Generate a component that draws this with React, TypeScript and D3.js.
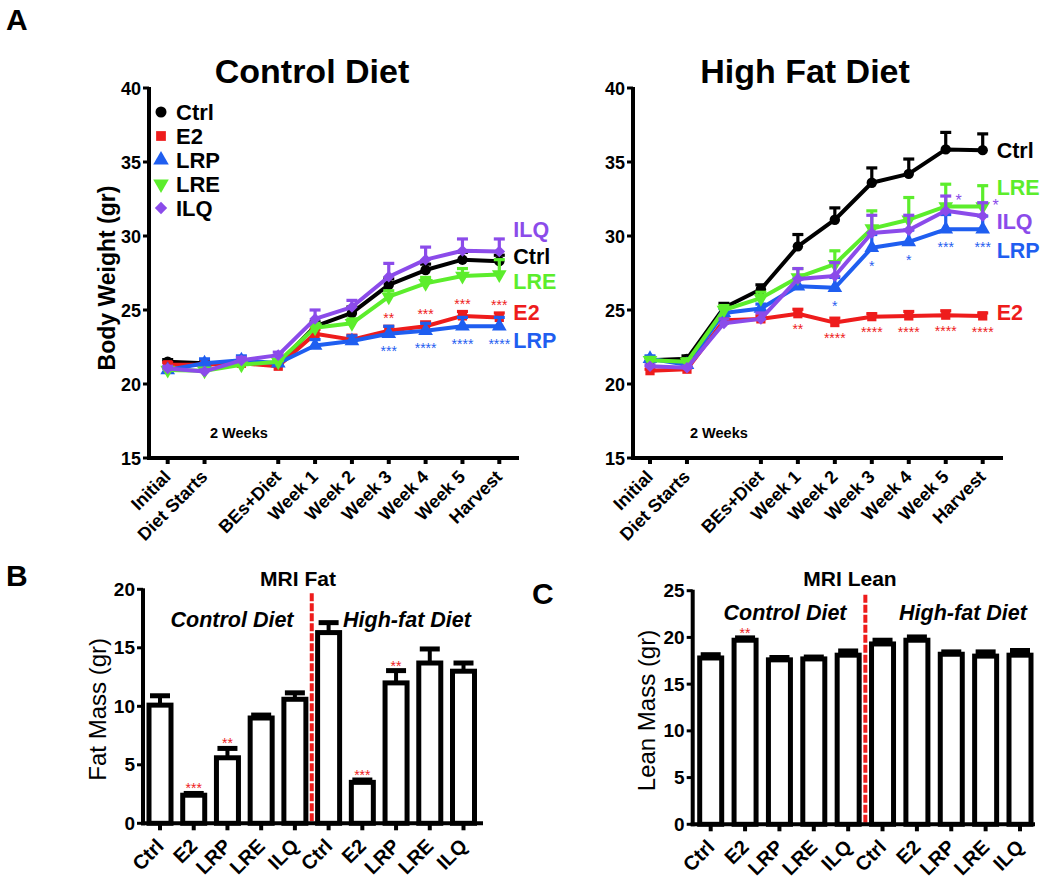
import React from 'react';
import * as d3 from 'd3';

// ---------- DATA ----------
const timeLabels = ['Initial', 'Diet Starts', '', 'BEs+Diet', 'Week 1', 'Week 2', 'Week 3', 'Week 4', 'Week 5', 'Harvest'];
const groups = ['Ctrl', 'E2', 'LRP', 'LRE', 'ILQ'];
const groupColors = ['#000000', '#ee1c1c', '#1f5ef0', '#5ced2c', '#8b4bea'];
const groupSymbols = ['circle', 'square', 'triUp', 'triDown', 'diamond'];

// Control diet body weight (gr)
const cdCtrl = [21.5, 21.4, 21.4, 21.35, 23.9, 24.8, 26.7, 27.7, 28.4, 28.3];
const cdE2 = [21.3, 21.3, 21.4, 21.2, 23.4, 23.0, 23.6, 23.9, 24.6, 24.5];
const cdLRP = [20.95, 21.4, 21.6, 21.4, 22.6, 22.9, 23.4, 23.6, 23.9, 23.9];
const cdLRE = [20.95, 20.9, 21.3, 21.5, 23.8, 24.1, 25.9, 26.8, 27.3, 27.4];
const cdILQ = [21.05, 20.85, 21.6, 21.95, 24.4, 25.2, 27.25, 28.4, 29.0, 28.95];
const cdCtrlErr = [0.15, 0.1, 0.1, 0.1, 0.3, 0.4, 0.4, 0.4, 0.5, 0.4];
const cdE2Err = [0.15, 0.1, 0.1, 0.1, 0.3, 0.3, 0.3, 0.3, 0.3, 0.3];
const cdLRPErr = [0.15, 0.3, 0.3, 0.2, 0.4, 0.35, 0.5, 0.5, 0.6, 0.6];
const cdLREErr = [0.1, 0.1, 0.1, 0.1, 0.3, 0.3, 0.4, 0.4, 0.5, 1.0];
const cdILQErr = [0.15, 0.1, 0.2, 0.2, 0.6, 0.45, 0.9, 0.85, 0.8, 0.85];

// High fat diet body weight (gr)
const hfCtrl = [21.6, 21.7, 25.15, 26.4, 29.3, 31.1, 33.6, 34.2, 35.85, 35.8];
const hfE2 = [20.9, 21.0, 24.3, 24.4, 24.75, 24.15, 24.55, 24.6, 24.65, 24.6];
const hfLRP = [21.7, 21.3, 24.8, 25.1, 26.6, 26.5, 29.2, 29.6, 30.45, 30.45];
const hfLRE = [21.6, 21.5, 25.0, 25.8, 27.2, 28.1, 30.5, 31.1, 32.0, 32.0];
const hfILQ = [21.2, 21.1, 24.1, 24.4, 27.1, 27.3, 30.2, 30.4, 31.7, 31.35];
const hfCtrlErr = [0.2, 0.2, 0.3, 0.3, 0.8, 0.8, 1.0, 1.0, 1.15, 1.1];
const hfE2Err = [0.1, 0.1, 0.2, 0.2, 0.3, 0.3, 0.2, 0.3, 0.3, 0.2];
const hfLRPErr = [0.2, 0.2, 0.3, 0.3, 0.5, 0.7, 0.9, 0.8, 1.0, 0.9];
const hfLREErr = [0.2, 0.2, 0.3, 0.4, 0.6, 0.9, 1.2, 1.5, 1.5, 1.4];
const hfILQErr = [0.1, 0.1, 0.3, 0.4, 0.7, 0.9, 1.2, 1.0, 1.0, 0.9];

// significance stars per time point
const cdE2Stars = ['', '', '', '', '', '', '**', '***', '***', '***'];
const cdLRPStars = ['', '', '', '', '', '', '***', '****', '****', '****'];
const hfE2Stars = ['', '', '', '', '**', '****', '****', '****', '****', '****'];
const hfLRPStars = ['', '', '', '', '', '*', '*', '*', '***', '***'];
const hfILQStars = ['', '', '', '', '', '', '', '', '*', '*'];

// end-of-line labels (value level on y scale)
const cdEndLabels = [
  { text: 'ILQ', group: 4, level: 29.9 },
  { text: 'Ctrl', group: 0, level: 28.1 },
  { text: 'LRE', group: 3, level: 26.45 },
  { text: 'E2', group: 1, level: 24.3 },
  { text: 'LRP', group: 2, level: 22.45 },
];
const hfEndLabels = [
  { text: 'Ctrl', group: 0, level: 35.3 },
  { text: 'LRE', group: 3, level: 32.75 },
  { text: 'ILQ', group: 4, level: 30.5 },
  { text: 'LRP', group: 2, level: 28.5 },
  { text: 'E2', group: 1, level: 24.3 },
];

const yTicksA = [15, 20, 25, 30, 35, 40];

// MRI bars
const barLabels = ['Ctrl', 'E2', 'LRP', 'LRE', 'ILQ', 'Ctrl', 'E2', 'LRP', 'LRE', 'ILQ'];
const fatMass = [10.1, 2.4, 5.6, 9.0, 10.6, 16.3, 3.5, 12.0, 13.7, 13.0];
const fatErr = [0.8, 0.15, 0.8, 0.25, 0.55, 0.85, 0.2, 1.05, 1.2, 0.7];
const fatStars = ['', '***', '**', '', '', '', '***', '**', '', ''];
const fatTicks = [0, 5, 10, 15, 20];

const leanMass = [17.8, 19.7, 17.6, 17.7, 18.1, 19.3, 19.7, 18.2, 18.0, 18.1];
const leanErr = [0.35, 0.25, 0.25, 0.2, 0.45, 0.4, 0.35, 0.25, 0.45, 0.5];
const leanStars = ['', '**', '', '', '', '', '', '', '', ''];
const leanTicks = [0, 5, 10, 15, 20, 25];

// ---------- STYLE ----------
const FONT = "'Liberation Sans', Arial, Helvetica, sans-serif";

function symbolPath(kind: string, size: number) {
  if (kind === 'circle') return d3.symbol().type(d3.symbolCircle).size(size)()!;
  if (kind === 'square') return d3.symbol().type(d3.symbolSquare).size(size)()!;
  if (kind === 'triUp' || kind === 'triDown') return d3.symbol().type(d3.symbolTriangle).size(size * 1.1)()!;
  return d3.symbol().type(d3.symbolSquare).size(size * 0.8)()!;
}
function symbolRotate(kind: string) {
  if (kind === 'triDown') return 180;
  if (kind === 'diamond') return 45;
  return 0;
}

type Series = { vals: number[]; err: number[]; g: number };

function LinePanel(props: {
  x0: number; x1: number; axisX: number; axisEnd: number;
  series: Series[]; title: string; titleX: number;
  endLabels: { text: string; group: number; level: number }[];
  stars: { arr: string[]; g: number; ref: number[]; dx: number; dy: number; size: number }[];
  weeksX: number; showLegend: boolean; yLabel?: boolean;
}) {
  const x = d3.scaleLinear().domain([0, 9]).range([props.x0, props.x1]);
  const y = d3.scaleLinear().domain([15, 40]).range([458, 88]);
  const line = d3.line<number>().x((_, i) => x(i)).y((d) => y(d));
  const axisY = y(15);
  return (
    <g>
      <text x={props.titleX} y={83} textAnchor="middle" fontFamily={FONT} fontWeight="bold" fontSize={34}>{props.title}</text>
      {props.yLabel && (
        <text transform={`translate(115,${(y(15) + y(40)) / 2 + 5}) rotate(-90)`} textAnchor="middle" fontFamily={FONT} fontWeight="bold" fontSize={23}>Body Weight (gr)</text>
      )}
      {props.series.map((s) => {
        const col = groupColors[s.g];
        return (
          <g key={s.g}>
            {s.vals.map((v, i) => (
              <g key={i}>
                <line x1={x(i)} x2={x(i)} y1={y(v)} y2={y(v + s.err[i])} stroke={col} strokeWidth={3.2} />
                <line x1={x(i) - 5.5} x2={x(i) + 5.5} y1={y(v + s.err[i])} y2={y(v + s.err[i])} stroke={col} strokeWidth={3.2} />
              </g>
            ))}
            <path d={line(s.vals)!} fill="none" stroke={col} strokeWidth={4} strokeLinejoin="round" />
            {s.vals.map((v, i) => (
              <path key={'m' + i} d={symbolPath(groupSymbols[s.g], 85)} transform={`translate(${x(i)},${y(v)}) rotate(${symbolRotate(groupSymbols[s.g])})`} fill={col} />
            ))}
          </g>
        );
      })}
      {props.stars.map((st, k) => (
        <g key={'st' + k}>
          {st.arr.map((t, i) => t ? (
            <text key={i} x={x(i) + st.dx} y={y(st.ref[i]) + st.dy + st.size * 0.55} textAnchor="middle" fontFamily={FONT} fontSize={st.size} fill={groupColors[st.g]}>{t}</text>
          ) : null)}
        </g>
      ))}
      {props.endLabels.map((l) => (
        <text key={l.text} x={x(9) + 14} y={y(l.level)} fontFamily={FONT} fontWeight="bold" fontSize={21.5} fill={groupColors[l.group]}>{l.text}</text>
      ))}
      <line x1={props.axisX} x2={props.axisX} y1={y(40) - 1} y2={axisY + 2} stroke="#000" strokeWidth={4} />
      <line x1={props.axisX - 2} x2={props.axisEnd} y1={axisY} y2={axisY} stroke="#000" strokeWidth={4} />
      {yTicksA.map((t) => (
        <g key={t}>
          <line x1={props.axisX - 6} x2={props.axisX} y1={y(t)} y2={y(t)} stroke="#000" strokeWidth={3} />
          <text x={props.axisX - 8} y={y(t) + 6.5} textAnchor="end" fontFamily={FONT} fontWeight="bold" fontSize={18}>{t}</text>
        </g>
      ))}
      {timeLabels.map((lab, i) => lab ? (
        <g key={'xt' + i}>
          <line x1={x(i)} x2={x(i)} y1={axisY} y2={axisY + 6} stroke="#000" strokeWidth={4} />
          <text transform={`translate(${x(i) + 4},${axisY + 20}) rotate(-45)`} textAnchor="end" fontFamily={FONT} fontWeight="bold" fontSize={18}>{lab}</text>
        </g>
      ) : null)}
      <text x={props.weeksX} y={438} fontFamily={FONT} fontWeight="bold" fontSize={14.5}>2 Weeks</text>
      {props.showLegend && groups.map((g, i) => (
        <g key={'lg' + g}>
          <path d={symbolPath(groupSymbols[i], 95)} transform={`translate(161,${112 + i * 24}) rotate(${symbolRotate(groupSymbols[i])})`} fill={groupColors[i]} />
          <text x={176} y={112 + i * 24 + 8} fontFamily={FONT} fontWeight="bold" fontSize={22}>{g}</text>
        </g>
      ))}
    </g>
  );
}

function BarPanel(props: {
  vals: number[]; err: number[]; stars: string[]; ticks: number[]; ymax: number;
  axisX: number; axisEnd: number; c0: number; c1: number; yBottom: number; yTop: number;
  title: string; titleX: number; yLabel: string; yLabelX: number; subY: number; sub1X: number; sub2X: number;
}) {
  const x = d3.scalePoint<number>().domain(d3.range(10)).range([props.c0, props.c1]);
  const y = d3.scaleLinear().domain([0, props.ymax]).range([props.yBottom, props.yTop]);
  const bw = 22;
  const dashX = ((x(4) as number) + (x(5) as number)) / 2;
  return (
    <g>
      <text x={props.titleX} y={586} textAnchor="middle" fontFamily={FONT} fontWeight="bold" fontSize={21}>{props.title}</text>
      <text transform={`translate(${props.yLabelX},${(props.yBottom + props.yTop) / 2 + 3}) rotate(-90)`} textAnchor="middle" fontFamily={FONT} fontSize={24}>{props.yLabel}</text>
      <text x={props.sub1X} y={props.subY} textAnchor="middle" fontFamily={FONT} fontWeight="bold" fontStyle="italic" fontSize={21.5}>Control Diet</text>
      <text x={props.sub2X} y={props.subY} textAnchor="middle" fontFamily={FONT} fontWeight="bold" fontStyle="italic" fontSize={21.5}>High-fat Diet</text>
      {props.vals.map((v, i) => {
        const cx = x(i) as number;
        return (
          <g key={i}>
            <line x1={cx} x2={cx} y1={y(v)} y2={y(v + props.err[i])} stroke="#000" strokeWidth={4} />
            <line x1={cx - 10} x2={cx + 10} y1={y(v + props.err[i])} y2={y(v + props.err[i])} stroke="#000" strokeWidth={5} />
            <rect x={cx - bw / 2} y={y(v)} width={bw} height={props.yBottom - y(v)} fill="#fff" stroke="#000" strokeWidth={5} />
            {props.stars[i] && (
              <text x={cx} y={y(v + props.err[i])} textAnchor="middle" fontFamily={FONT} fontSize={14} fill="#ee1c1c">{props.stars[i]}</text>
            )}
            <line x1={cx} x2={cx} y1={props.yBottom} y2={props.yBottom + 7} stroke="#000" strokeWidth={4} />
            <text transform={`translate(${cx + 5},${props.yBottom + 24}) rotate(-45)`} textAnchor="end" fontFamily={FONT} fontWeight="bold" fontSize={20}>{barLabels[i]}</text>
          </g>
        );
      })}
      <line x1={dashX} x2={dashX} y1={props.yTop + 4} y2={props.yBottom} stroke="#ee1c1c" strokeWidth={4} strokeDasharray="8,2" />
      <line x1={props.axisX} x2={props.axisX} y1={props.yTop - 1} y2={props.yBottom + 2} stroke="#000" strokeWidth={4} />
      <line x1={props.axisX - 2} x2={props.axisEnd} y1={props.yBottom} y2={props.yBottom} stroke="#000" strokeWidth={4} />
      {props.ticks.map((t) => (
        <g key={t}>
          <line x1={props.axisX - 6} x2={props.axisX} y1={y(t)} y2={y(t)} stroke="#000" strokeWidth={3} />
          <text x={props.axisX - 8} y={y(t) + 6.5} textAnchor="end" fontFamily={FONT} fontWeight="bold" fontSize={19}>{t}</text>
        </g>
      ))}
    </g>
  );
}

export default function App() {
  const cdSeries: Series[] = [
    { vals: cdCtrl, err: cdCtrlErr, g: 0 },
    { vals: cdE2, err: cdE2Err, g: 1 },
    { vals: cdLRP, err: cdLRPErr, g: 2 },
    { vals: cdLRE, err: cdLREErr, g: 3 },
    { vals: cdILQ, err: cdILQErr, g: 4 },
  ];
  const hfSeries: Series[] = [
    { vals: hfCtrl, err: hfCtrlErr, g: 0 },
    { vals: hfE2, err: hfE2Err, g: 1 },
    { vals: hfLRP, err: hfLRPErr, g: 2 },
    { vals: hfLRE, err: hfLREErr, g: 3 },
    { vals: hfILQ, err: hfILQErr, g: 4 },
  ];
  return (
    <svg width={1050} height={890} style={{ position: 'absolute', left: 0, top: 0, background: '#fff' }}>
      <rect width={1050} height={890} fill="#fff" />
      <text x={6} y={30} fontFamily={FONT} fontWeight="bold" fontSize={30}>A</text>
      <text x={6} y={586} fontFamily={FONT} fontWeight="bold" fontSize={30}>B</text>
      <text x={532} y={604} fontFamily={FONT} fontWeight="bold" fontSize={30}>C</text>
      <LinePanel x0={167.7} x1={499.3} axisX={149} axisEnd={519} series={cdSeries}
        title="Control Diet" titleX={312} endLabels={cdEndLabels} weeksX={210} showLegend={true} yLabel={true}
        stars={[
          { arr: cdE2Stars, g: 1, ref: cdE2, dx: 0, dy: -15, size: 14 },
          { arr: cdLRPStars, g: 2, ref: cdLRP, dx: 0, dy: 15, size: 14 },
        ]} />
      <LinePanel x0={650} x1={982.7} axisX={633} axisEnd={1003} series={hfSeries}
        title="High Fat Diet" titleX={805} endLabels={hfEndLabels} weeksX={690} showLegend={false}
        stars={[
          { arr: hfE2Stars, g: 1, ref: hfE2, dx: 0, dy: 13, size: 14 },
          { arr: hfLRPStars, g: 2, ref: hfLRP, dx: 0, dy: 15, size: 14 },
          { arr: hfILQStars, g: 4, ref: hfILQ, dx: 13, dy: -14, size: 16 },
        ]} />
      <BarPanel vals={fatMass} err={fatErr} stars={fatStars} ticks={fatTicks} ymax={20}
        axisX={143} axisEnd={483} c0={160} c1={463.5} yBottom={823.3} yTop={589.3}
        title="MRI Fat" titleX={298} yLabel="Fat Mass (gr)" yLabelX={106} subY={627} sub1X={232} sub2X={407} />
      <BarPanel vals={leanMass} err={leanErr} stars={leanStars} ticks={leanTicks} ymax={25}
        axisX={692.7} axisEnd={1035} c0={710.7} c1={1020} yBottom={824.3} yTop={590.7}
        title="MRI Lean" titleX={850} yLabel="Lean Mass (gr)" yLabelX={655} subY={620} sub1X={785} sub2X={963} />
    </svg>
  );
}
